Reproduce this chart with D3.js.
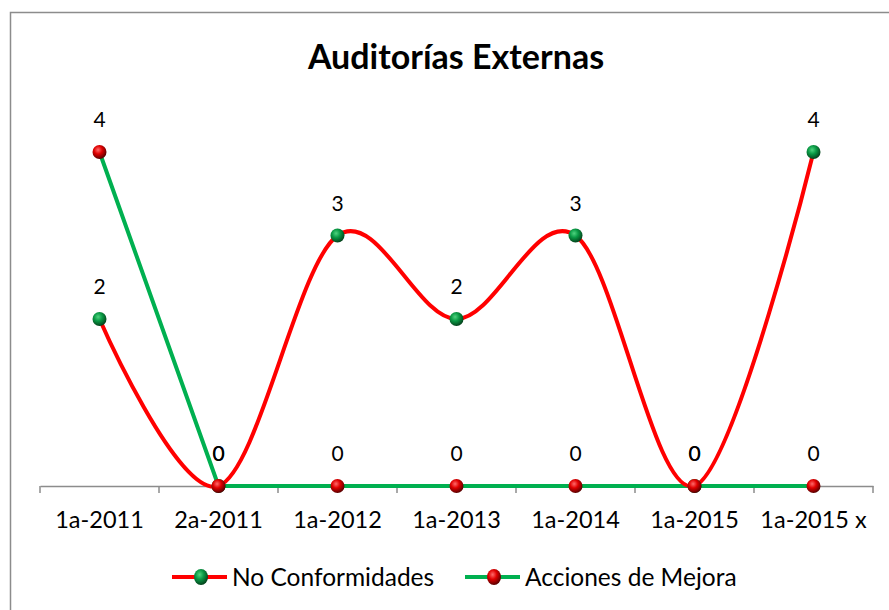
<!DOCTYPE html>
<html><head><meta charset="utf-8">
<script src="https://cdn.jsdelivr.net/npm/d3@7"></script>
<style>body{margin:0;background:#fff}svg{display:block}</style>
</head><body>
<script>
const categories = ["1a-2011","2a-2011","1a-2012","1a-2013","1a-2014","1a-2015","1a-2015 x"];
const noConformidades = [2,0,3,2,3,0,4];
const accionesMejora = [4,0,0,0,0,0,0];
const seriesNames = ["No Conformidades","Acciones de Mejora"];
const title = "Auditorías Externas";

const W = 889, H = 610;
const font = "Lato, 'Open Sans', sans-serif";
const svg = d3.select("body").append("svg").attr("width", W).attr("height", H);

const defs = svg.append("defs");
function sphere(id, light, mid, dark){
  const g = defs.append("radialGradient").attr("id", id).attr("cx","40%").attr("cy","35%").attr("r","65%");
  g.append("stop").attr("offset","0%").attr("stop-color", light);
  g.append("stop").attr("offset","45%").attr("stop-color", mid);
  g.append("stop").attr("offset","100%").attr("stop-color", dark);
}
sphere("gGreen", "#4fd37f", "#0a9a45", "#04431c");
sphere("gRed", "#ff6a6a", "#e00000", "#5a0000");

// chart border
svg.append("path").attr("d", `M10.5,${H+2} V12.5 H${W+2}`).attr("fill","none").attr("stroke","#8c8c8c").attr("stroke-width",1.5);

const x = d3.scaleBand().domain(categories).range([40, 873]);
const y = d3.scaleLinear().domain([0, 4]).range([486, 152]);
const cx = d => x(d) + x.bandwidth()/2;

// title
svg.append("text").attr("x", 456).attr("y", 69).attr("text-anchor","middle")
  .attr("font-family", font).attr("font-weight","bold").attr("font-size", 34).text(title);

// axis
const axis = d3.axisBottom(x).tickSize(0);
const ax = svg.append("g").attr("transform","translate(0,486)").call(axis);
ax.select(".domain").attr("stroke","#8c8c8c").attr("stroke-width",1.5);
ax.selectAll("text").attr("font-family", font).attr("font-size", 23.5).attr("fill","#000")
  .attr("y", 42).attr("dy", 0);
// tick marks at category boundaries
const bounds = categories.map(c => x(c)).concat([x(categories[categories.length-1]) + x.bandwidth()]);
ax.selectAll(".bnd").data(bounds).enter().append("line")
  .attr("x1", d=>d).attr("x2", d=>d).attr("y1",0).attr("y2",7)
  .attr("stroke","#8c8c8c").attr("stroke-width",1.5);

// lines
const smooth = d3.line().x((d,i)=>cx(categories[i])).y(d=>y(d)).curve(d3.curveCardinal.tension(0));
const straight = d3.line().x((d,i)=>cx(categories[i])).y(d=>y(d));

svg.append("path").attr("d", straight(accionesMejora)).attr("fill","none").attr("stroke","#00b050").attr("stroke-width",4);
svg.append("path").attr("d", smooth(noConformidades)).attr("fill","none").attr("stroke","#ff0000").attr("stroke-width",4);

// markers: green (No Conformidades) then red (Acciones de Mejora) on top
svg.append("g").selectAll("circle").data(noConformidades).enter().append("circle")
  .attr("cx",(d,i)=>cx(categories[i])).attr("cy", d=>y(d)).attr("r",7).attr("fill","url(#gGreen)");
svg.append("g").selectAll("circle").data(accionesMejora).enter().append("circle")
  .attr("cx",(d,i)=>cx(categories[i])).attr("cy", d=>y(d)).attr("r",7).attr("fill","url(#gRed)");

// data labels
function labels(arr){
  svg.append("g").selectAll("text").data(arr).enter().append("text")
    .attr("x",(d,i)=>cx(categories[i])).attr("y", d=>y(d)-25)
    .attr("text-anchor","middle").attr("font-family",font).attr("font-size",21).attr("fill","#000")
    .text(d=>d);
}
labels(noConformidades);
labels(accionesMejora);

// legend
const leg = [
  {name: seriesNames[0], line:"#ff0000", mk:"url(#gGreen)", x0:172},
  {name: seriesNames[1], line:"#00b050", mk:"url(#gRed)", x0:465}
];
leg.forEach(l=>{
  svg.append("line").attr("x1",l.x0).attr("x2",l.x0+55).attr("y1",577).attr("y2",577).attr("stroke",l.line).attr("stroke-width",4);
  svg.append("ellipse").attr("cx",l.x0+29).attr("cy",577).attr("rx",7).attr("ry",8).attr("fill",l.mk);
  svg.append("text").attr("x",l.x0+60).attr("y",586).attr("font-family",font).attr("font-size",24.5).text(l.name);
});
</script>
</body></html>
